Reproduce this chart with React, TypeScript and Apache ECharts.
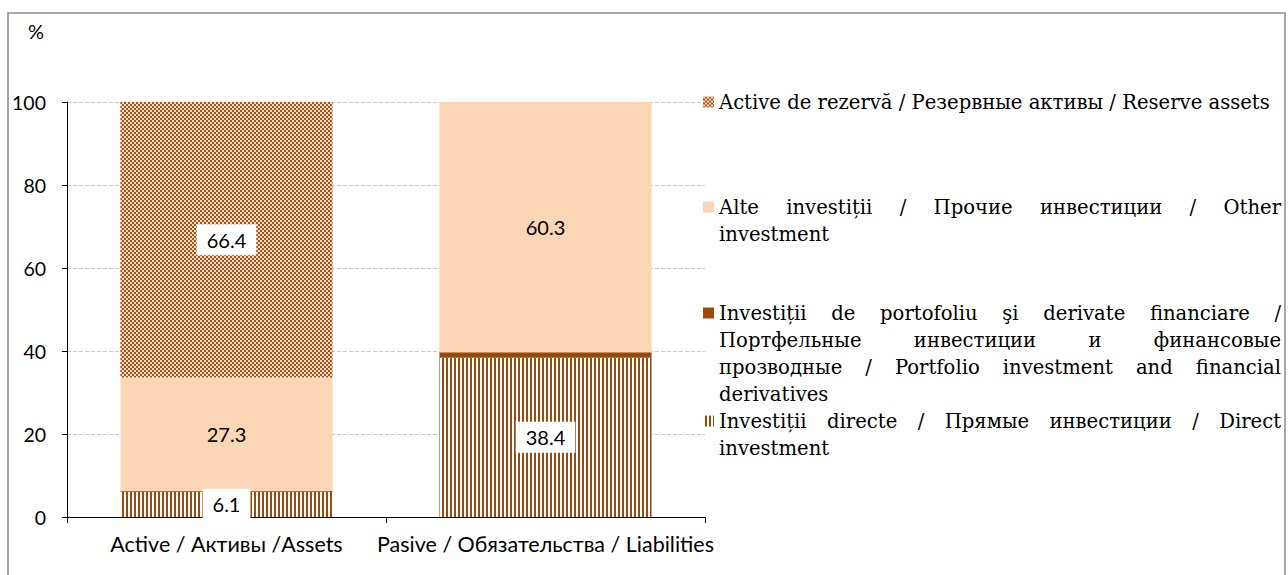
import { useEffect, useRef } from 'react';
import * as echarts from 'echarts';

const categories = ['Active / Активы /Assets', 'Pasive / Обязательства / Liabilities'];
const directInvestment = [6.1, 38.4];
const portfolioInvestment = [0.2, 1.3];
const otherInvestment = [27.3, 60.3];
const reserveAssets = [66.4, 0];
const yMin = 0;
const yMax = 100;
const yStep = 20;

const nameDirect = 'Investiții directe / Прямые инвестиции / Direct investment';
const namePortfolio = 'Investiții de portofoliu şi derivate financiare / Портфельные инвестиции и финансовые прозводные / Portfolio investment and financial derivatives';
const nameOther = 'Alte investiții / Прочие инвестиции / Other investment';
const nameReserve = 'Active de rezervă / Резервные активы / Reserve assets';

const legendOrder = [nameReserve, nameOther, namePortfolio, nameDirect];
const legendLines: string[][] = [
  ['Active de rezervă / Резервные активы / Reserve assets'],
  ['Alte investiții / Прочие инвестиции / Other', 'investment'],
  ['Investiții de portofoliu şi derivate financiare /', 'Портфельные инвестиции и финансовые', 'прозводные / Portfolio investment and financial', 'derivatives'],
  ['Investiții directe / Прямые инвестиции / Direct', 'investment'],
];

const BROWN = '#9C4A0C';
const PEACH = '#FCD5B5';
const SANS = 'Lato';
const SERIF = 'DejaVu Serif';

export default function App() {
  const ref = useRef<HTMLDivElement>(null);
  useEffect(() => {
    if (!ref.current) return;
    const chart = echarts.init(ref.current, undefined, { renderer: 'svg' });

    const legendSize = 19.6;
    const ctx = document.createElement('canvas').getContext('2d')!;
    ctx.font = `${legendSize}px "${SERIF}"`;
    const textLeft = 719;
    const textRight = 1281;
    const lineH = 27;
    const entryTops = [102, 207, 313, 421];

    const graphics: any[] = [
      {
        type: 'rect',
        z: -10,
        shape: { x: 8, y: 13, width: 1277, height: 620 },
        style: { fill: 'none', stroke: '#8a8a8a', lineWidth: 1.5 },
        silent: true,
      },
      {
        type: 'text',
        x: 36,
        y: 31,
        style: { text: '%', fontFamily: SANS, fontSize: 20, fill: '#000', align: 'center', verticalAlign: 'middle' },
      },
    ];

    legendLines.forEach((lines, i) => {
      lines.forEach((line, j) => {
        const y = entryTops[i] + j * lineH;
        const last = j === lines.length - 1;
        const baseStyle = { fontFamily: SERIF, fontSize: legendSize, fill: '#000', verticalAlign: 'middle' };
        if (last) {
          graphics.push({ type: 'text', x: textLeft, y, style: { ...baseStyle, text: line } });
        } else {
          const words = line.split(' ');
          const widths = words.map((w) => ctx.measureText(w).width);
          const total = widths.reduce((a, b) => a + b, 0);
          const gap = (textRight - textLeft - total) / (words.length - 1);
          let x = textLeft;
          words.forEach((w, k) => {
            graphics.push({ type: 'text', x, y, style: { ...baseStyle, text: w } });
            x += widths[k] + gap;
          });
        }
      });
    });

    const labelBase = {
      show: true,
      position: 'inside',
      color: '#000',
      fontFamily: SANS,
      fontSize: 20,
    };
    const boxLabel = { ...labelBase, backgroundColor: '#fff', padding: [6, 10, 5, 10] };

    const option: any = {
      animation: false,
      grid: { left: 67, right: 583, top: 102, bottom: 58 },
      legend: legendOrder.map((name, i) => ({
        data: [name],
        left: 703,
        top: entryTops[i] - 5.5,
        itemWidth: 11,
        itemHeight: 11,
        icon: 'rect',
        padding: 0,
        selectedMode: false,
        formatter: () => '',
        textStyle: { fontSize: 1 },
      })),
      xAxis: {
        type: 'category',
        data: categories,
        axisLine: { lineStyle: { color: '#000', width: 1 } },
        axisTick: { show: true, length: 6, lineStyle: { color: '#000' } },
        axisLabel: {
          color: '#000',
          fontFamily: SANS,
          fontSize: 21.5,
          margin: 16,
          interval: 0,
          hideOverlap: false,
        },
      },
      yAxis: {
        type: 'value',
        min: yMin,
        max: yMax,
        interval: yStep,
        axisLine: { show: true, lineStyle: { color: '#000', width: 1 } },
        axisTick: { show: true, length: 5, lineStyle: { color: '#000' } },
        axisLabel: { color: '#000', fontFamily: SANS, fontSize: 19.5, margin: 21 },
        splitLine: { show: true, lineStyle: { color: '#c8c8c8', type: 'dashed', width: 1 } },
      },
      series: [
        {
          name: nameDirect,
          type: 'bar',
          stack: 'total',
          barWidth: '66.5%',
          data: directInvestment,
          itemStyle: {
            color: '#ffffff',
            decal: {
              symbol: 'rect',
              symbolSize: 1,
              color: BROWN,
              dashArrayX: [1, 0],
              dashArrayY: [2, 2],
              rotation: Math.PI / 2,
            },
          },
          label: boxLabel,
        },
        {
          name: namePortfolio,
          type: 'bar',
          stack: 'total',
          data: portfolioInvestment,
          itemStyle: { color: BROWN },
          label: { show: false },
        },
        {
          name: nameOther,
          type: 'bar',
          stack: 'total',
          data: otherInvestment,
          itemStyle: { color: PEACH },
          label: labelBase,
        },
        {
          name: nameReserve,
          type: 'bar',
          stack: 'total',
          data: reserveAssets.map((v) => ({ value: v, label: { show: v > 0 } })),
          itemStyle: {
            color: '#F8DCC4',
            decal: {
              symbol: 'rect',
              symbolSize: 1,
              color: '#A4531A',
              dashArrayX: [[2, 2], [0, 2, 2, 0]],
              dashArrayY: [2, 0],
            },
          },
          label: boxLabel,
        },
      ],
      graphic: graphics,
    };
    chart.setOption(option);
    return () => chart.dispose();
  }, []);

  return <div ref={ref} style={{ position: 'absolute', left: 0, top: 0, width: 1288, height: 575 }} />;
}
